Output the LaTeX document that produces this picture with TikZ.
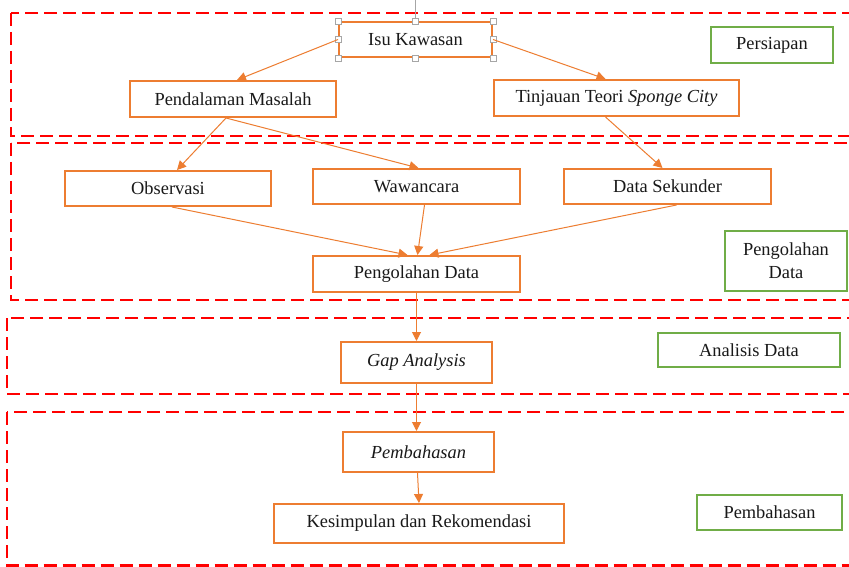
\documentclass[tikz,border=0pt]{standalone}
\usepackage{fontspec}
\setmainfont{Liberation Serif}
\usetikzlibrary{arrows.meta,calc}
\definecolor{boxorange}{HTML}{ED7D31}
\definecolor{arrorange}{HTML}{F4A26A}
\definecolor{boxgreen}{HTML}{70AD47}
\definecolor{secred}{HTML}{FF0000}
\tikzset{
  stepbox/.style={draw=boxorange, line width=2pt, inner sep=0pt, fill=white,
    font=\fontsize{18.4}{22}\selectfont, text=black!90},
  phasebox/.style={draw=boxgreen, line width=2pt, inner sep=0pt, fill=white,
    font=\fontsize{18.4}{23}\selectfont, align=center, text=black!90},
  section/.style={draw=secred, line width=2.8pt, dash pattern=on 13pt off 6pt},
  flow/.style={draw=boxorange, line width=1pt, -{Triangle[length=9pt,width=9pt]}},
  handle/.style={draw=gray!70, fill=white, line width=0.8pt, minimum size=6pt, inner sep=0pt}
}
\begin{document}
\begin{tikzpicture}[x=1pt,y=-1pt]
\useasboundingbox (0,0) rectangle (849,567);
\clip (0,0) rectangle (849,567);
\fill[white] (0,0) rectangle (849,567);
% sections
\draw[section] (11,13) rectangle (880,136);
\draw[section] (11,143) rectangle (880,300);
\draw[section] (7,318) rectangle (880,394);
\draw[section] (7,412) rectangle (880,565.5);
% step nodes
\node[stepbox, minimum width=153pt, minimum height=35pt] (isu) at (415.5,39.5) {Isu Kawasan};
\node[stepbox, minimum width=206pt, minimum height=36pt] (pend) at (233,99) {Pendalaman Masalah};
\node[stepbox, minimum width=245pt, minimum height=36pt] (tinj) at (616.5,98) {Tinjauan Teori \textit{Sponge City}};
\node[stepbox, minimum width=206pt, minimum height=35pt] (obs) at (168,188.5) {Observasi};
\node[stepbox, minimum width=207pt, minimum height=35pt] (waw) at (416.5,186.5) {Wawancara};
\node[stepbox, minimum width=207pt, minimum height=35pt] (dsek) at (667.5,186.5) {Data Sekunder};
\node[stepbox, minimum width=207pt, minimum height=36pt] (peng) at (416.5,274) {Pengolahan Data};
\node[stepbox, minimum width=151pt, minimum height=41pt] (gap) at (416.5,362.5) {\textit{Gap Analysis}};
\node[stepbox, minimum width=151pt, minimum height=40pt] (pemb) at (418.5,452) {\textit{Pembahasan}};
\node[stepbox, minimum width=290pt, minimum height=39pt] (kes) at (419,523.5) {Kesimpulan dan Rekomendasi};
% phase labels
\node[phasebox, minimum width=122pt, minimum height=36pt] (ph1) at (772,45) {Persiapan};
\node[phasebox, minimum width=122pt, minimum height=60pt] (ph2) at (786,261) {Pengolahan\\Data};
\node[phasebox, minimum width=182pt, minimum height=34pt] (ph3) at (749,350) {Analisis Data};
\node[phasebox, minimum width=145pt, minimum height=35pt] (ph4) at (769.5,512.5) {Pembahasan};
% selection handles of Isu Kawasan
\draw[gray!70, line width=0.8pt] (isu.north) -- ++(0,-22);
\foreach \a in {north west,north,north east,west,east,south west,south,south east}
  \node[handle] at (isu.\a) {};
% connectors
\draw[flow] (isu.west) -- ($(pend.north)+(4,0)$);
\draw[flow] (isu.east) -- ($(tinj.north)+(-11,0)$);
\draw[flow] ($(pend.south)+(-7,0)$) -- ($(obs.north)+(9,0)$);
\draw[flow] ($(pend.south)+(-7,0)$) -- ($(waw.north)+(2,0)$);
\draw[flow] ($(tinj.south)+(-11,0)$) -- ($(dsek.north)+(-5,0)$);
\draw[flow] ($(obs.south)+(4,0)$) -- ($(peng.north)+(-9,0)$);
\draw[flow] ($(waw.south)+(8,0)$) -- ($(peng.north)+(1,0)$);
\draw[flow] ($(dsek.south)+(9,0)$) -- ($(peng.north)+(13,0)$);
\draw[flow] (peng.south) -- (gap.north);
\draw[flow] (gap.south) -- ($(pemb.north)+(-2,0)$);
\draw[flow] ($(pemb.south)+(-1,0)$) -- (kes.north);
\end{tikzpicture}
\end{document}
